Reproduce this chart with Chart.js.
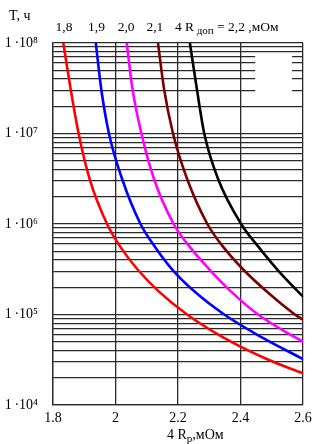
<!DOCTYPE html>
<html>
<head>
<meta charset="utf-8">
<script src="https://cdn.jsdelivr.net/npm/chart.js@4"></script>
<style>
  html, body { margin: 0; padding: 0; background: #fff; }
  #wrap { width: 322px; height: 444px; position: relative; }
</style>
</head>
<body>
<div id="wrap"><canvas id="lifeChart"></canvas></div>
<script>
// Service life T (hours) vs 4R_p (mOhm) for several limit values 4R_доп
const limitLabels = ['1,8', '1,9', '2,0', '2,1'];
const limitLabelR = [1.835, 1.939, 2.034, 2.126];
const lastLabelR = 2.19;

const rRed = [1.833, 1.856, 1.882, 1.917, 1.973, 2.015, 2.070, 2.140, 2.229, 2.343, 2.489, 2.600];
const tRed = [1e8, 3.16e7, 1e7, 3.16e6, 1e6, 5.62e5, 3.16e5, 1.78e5, 1e5, 5.62e4, 3.16e4, 2.24e4];

const rBlue = [1.937, 1.954, 1.979, 2.021, 2.080, 2.126, 2.181, 2.254, 2.348, 2.467, 2.601];
const tBlue = [1e8, 3.16e7, 1e7, 3.16e6, 1e6, 5.62e5, 3.16e5, 1.78e5, 1e5, 5.62e4, 3.2e4];

const rMagenta = [2.036, 2.054, 2.083, 2.123, 2.186, 2.237, 2.300, 2.371, 2.456, 2.574, 2.601];
const tMagenta = [1e8, 3.16e7, 1e7, 3.16e6, 1e6, 5.62e5, 3.16e5, 1.78e5, 1e5, 5.62e4, 5.0e4];

const rMaroon = [2.136, 2.155, 2.184, 2.229, 2.294, 2.344, 2.408, 2.485, 2.574, 2.601];
const tMaroon = [1e8, 3.16e7, 1e7, 3.16e6, 1e6, 5.62e5, 3.16e5, 1.78e5, 1e5, 8.7e4];

const rBlack = [2.238, 2.260, 2.284, 2.328, 2.402, 2.457, 2.517, 2.585, 2.601];
const tBlack = [1e8, 3.16e7, 1e7, 3.16e6, 1e6, 5.62e5, 3.16e5, 1.78e5, 1.57e5];

const xTicks = [1.8, 2.0, 2.2, 2.4, 2.6];
const xTickLabels = ['1.8', '2', '2.2', '2.4', '2.6'];
const decades = [1e4, 1e5, 1e6, 1e7, 1e8];
const decadeLabels = ['1\u2009·10⁴', '1\u2009·10⁵', '1\u2009·10⁶', '1\u2009·10⁷', '1\u2009·10⁸'];
const minorSteps = [2, 3, 4, 5, 6, 7, 8, 9];

const curves = [
  { r: rRed, t: tRed, color: '#ff0000' },
  { r: rBlue, t: tBlue, color: '#0000ff' },
  { r: rMagenta, t: tMagenta, color: '#ff00ff' },
  { r: rMaroon, t: tMaroon, color: '#7a0000' },
  { r: rBlack, t: tBlack, color: '#000000' }
];

const yTicks = [];
decades.forEach((d, i) => {
  yTicks.push(d);
  if (i < decades.length - 1) minorSteps.forEach(m => yTicks.push(m * d));
});

const serif = "'Liberation Serif', 'Times New Roman', serif";
const gridColor = '#2a2a2a';

// draws a text line with optional lowered (subscript) pieces
function drawRuns(ctx, x, y, runs, size) {
  runs.forEach(run => {
    ctx.font = (run.sub ? '11px ' : size + 'px ') + serif;
    ctx.fillText(run.t, x, y + (run.sub ? 3 : 0));
    x += ctx.measureText(run.t).width;
  });
}

const chartText = {
  id: 'chartText',
  beforeDatasetsDraw(chart) {
    const { ctx, scales: { x, y } } = chart;
    // blank patch in the upper right grid
    const x0 = x.getPixelForValue(2.447), x1 = x.getPixelForValue(2.565);
    const y0 = y.getPixelForValue(7.5e7), y1 = y.getPixelForValue(2.5e7);
    ctx.save();
    ctx.fillStyle = '#fff';
    ctx.fillRect(x0, y0, x1 - x0, y1 - y0);
    ctx.restore();
  },
  afterDraw(chart) {
    const { ctx, scales: { x } } = chart;
    ctx.save();
    ctx.fillStyle = '#000';
    ctx.textBaseline = 'alphabetic';
    ctx.font = '14px ' + serif;
    ctx.textAlign = 'left';
    ctx.fillText('T, ч', 9, 20);

    ctx.font = '13.5px ' + serif;
    ctx.textAlign = 'center';
    limitLabels.forEach((lbl, i) => {
      ctx.fillText(lbl, x.getPixelForValue(limitLabelR[i]), 31);
    });
    ctx.textAlign = 'left';
    drawRuns(ctx, x.getPixelForValue(lastLabelR), 31, [
      { t: '4 R' }, { t: ' доп', sub: true }, { t: ' = 2,2 ,мОм' }
    ], 13.5);

    drawRuns(ctx, 167, 439, [
      { t: '4 R' }, { t: 'р', sub: true }, { t: ',мОм' }
    ], 14);
    ctx.restore();
  }
};

new Chart(document.getElementById('lifeChart').getContext('2d'), {
  type: 'line',
  data: {
    datasets: curves.map(c => ({
      data: c.r.map((r, i) => ({ x: r, y: c.t[i] })),
      borderColor: c.color,
      borderWidth: 2.6,
      pointRadius: 0,
      fill: false,
      cubicInterpolationMode: 'monotone'
    }))
  },
  options: {
    responsive: true,
    maintainAspectRatio: false,
    animation: false,
    layout: { padding: { top: 43, right: 19, left: 0, bottom: 0 } },
    plugins: { legend: { display: false }, tooltip: { enabled: false } },
    scales: {
      x: {
        type: 'linear',
        min: 1.8,
        max: 2.6,
        afterBuildTicks: s => { s.ticks = xTicks.map(v => ({ value: v })); },
        afterFit: s => { s.height = 39; },
        grid: { color: gridColor, lineWidth: 1.3, drawTicks: false },
        border: { color: gridColor, width: 1.3 },
        ticks: {
          color: '#000',
          padding: 5,
          maxRotation: 0,
          font: { family: serif, size: 14 },
          callback: (v, i) => xTickLabels[i]
        }
      },
      y: {
        type: 'logarithmic',
        min: 1e4,
        max: 1e8,
        afterBuildTicks: s => { s.ticks = yTicks.map(v => ({ value: v })); },
        afterFit: s => { s.width = 53; },
        grid: { color: gridColor, lineWidth: 1.3, drawTicks: false },
        border: { color: gridColor, width: 1.3 },
        ticks: {
          color: '#000',
          padding: 15,
          autoSkip: false,
          font: { family: serif, size: 14 },
          callback: v => {
            const i = decades.indexOf(v);
            return i >= 0 ? decadeLabels[i] : '';
          }
        }
      }
    }
  },
  plugins: [chartText]
});
</script>
</body>
</html>
